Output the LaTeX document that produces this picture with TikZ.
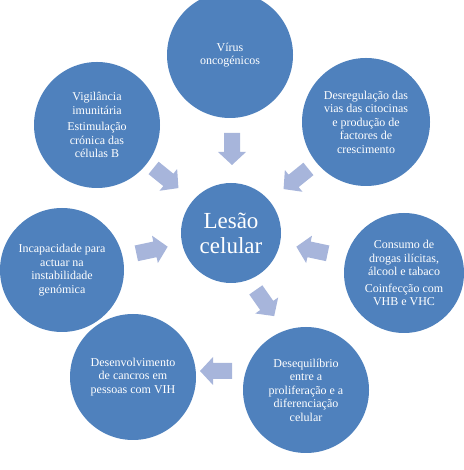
\documentclass[tikz,border=0pt]{standalone}
\usepackage{fontspec}
\setmainfont{Liberation Serif}
\definecolor{circblue}{RGB}{79,129,189}
\definecolor{arrblue}{RGB}{167,181,219}

\begin{document}
\begin{tikzpicture}[x=1pt,y=1pt,
    main/.style={circle, fill=circblue, text=white, align=center, inner sep=0pt, minimum size=126pt, font=\fontsize{12}{13.5}\selectfont},
    hub/.style={main, minimum size=100pt, font=\fontsize{23}{25}\selectfont},
    blk/.pic={\fill[arrblue] (-16,-8) -- (3,-8) -- (3,-14) -- (16,0) -- (3,14) -- (3,8) -- (-16,8) -- cycle;}]
  \useasboundingbox (0,0) rectangle (463,470);

  % circles
  \node[hub] (lesao) at (231,237) {Lesão\\celular};
  \node[main] (virus) at (230,415) {Vírus\\oncogénicos};
  \node[main, minimum size=128pt] (desreg) at (366,348) {Desregulação das\\vias das citocinas\\e produção de\\factores de\\crescimento};
  \node[main] (vigil) at (97,345) {Vigilância\\imunitária\\[3pt]Estimulação\\crónica das\\células B};
  \node[main, minimum size=124pt] (incap) at (62,200) {Incapacidade para\\actuar na\\instabilidade\\genómica};
  \node[main, minimum size=120pt] (consumo) at (404,197) {Consumo de\\drogas ilícitas,\\álcool e tabaco\\[3pt]Coinfecção com\\VHB e VHC};
  \node[main] (deseq) at (306,80) {Desequilíbrio\\entre a\\proliferação e a\\diferenciação\\celular};
  \node[main] (desenv) at (133,93) {Desenvolvimento\\de cancros em\\pessoas com VIH};

  % block arrows
  \pic (ar1) [rotate=-90] at (232,321) {blk};
  \pic (ar2) [rotate=-39] at (166,292) {blk};
  \pic (ar3) [rotate=-141] at (296,291) {blk};
  \pic (ar4) [rotate=12] at (152,220) {blk};
  \pic (ar5) [rotate=168] at (312,220) {blk};
  \pic (ar6) [rotate=-55] at (265,167) {blk};
  \pic (ar7) [rotate=180] at (216,99) {blk};
\end{tikzpicture}
\end{document}
